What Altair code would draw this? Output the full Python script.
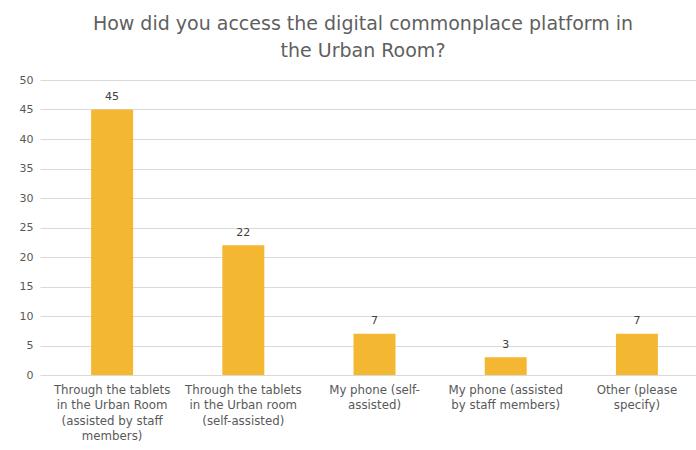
import altair as alt
import pandas as pd

categories = [
    "Through the tablets|in the Urban Room|(assisted by staff|members)",
    "Through the tablets|in the Urban room|(self-assisted)",
    "My phone (self-|assisted)",
    "My phone (assisted|by staff members)",
    "Other (please|specify)",
]
counts = [45, 22, 7, 3, 7]

df = pd.DataFrame({"category": categories, "count": counts})

FONT = "DejaVu Sans"
GREY = "#595959"

base = alt.Chart(df).encode(
    x=alt.X(
        "category:N",
        sort=categories,
        title=None,
        scale=alt.Scale(paddingInner=0.68, paddingOuter=0.34, align=0.573),
        axis=alt.Axis(
            labelAngle=0,
            labelExpr="split(datum.label, '|')",
            labelFont=FONT,
            labelFontSize=11.8,
            labelColor=GREY,
            labelLineHeight=15.5,
            labelPadding=9,
            labelLimit=200,
            domain=False,
            ticks=False,
            grid=False,
        ),
    ),
    y=alt.Y(
        "count:Q",
        title=None,
        scale=alt.Scale(domain=[0, 50]),
        axis=alt.Axis(
            values=list(range(0, 55, 5)),
            labelFont=FONT,
            labelFontSize=11,
            labelColor=GREY,
            labelPadding=7,
            domain=False,
            ticks=False,
            gridColor="#d9d9d9",
            gridWidth=1,
        ),
    ),
)

bars = base.mark_bar(color="#F4B731")
text = base.mark_text(
    dy=-12.5, font=FONT, fontSize=11, color="#404040"
).encode(text="count:Q")

chart = (
    (bars + text)
    .properties(
        width=656,
        height=295,
        padding={"left": 40, "top": 80, "right": 0, "bottom": 75},
        autosize=alt.AutoSizeParams(type="none"),
        title=alt.TitleParams(
            text=["How did you access the digital commonplace platform in", "the Urban Room?"],
            font=FONT,
            fontSize=19,
            fontWeight="normal",
            color="#5f5f5f",
            anchor="middle",
            offset=13.5,
            lineHeight=27,
            dx=-5,
        ),
    )
    .configure_view(stroke=None)
)

chart.save("out.html", embed_options={"renderer": "svg", "actions": False})
